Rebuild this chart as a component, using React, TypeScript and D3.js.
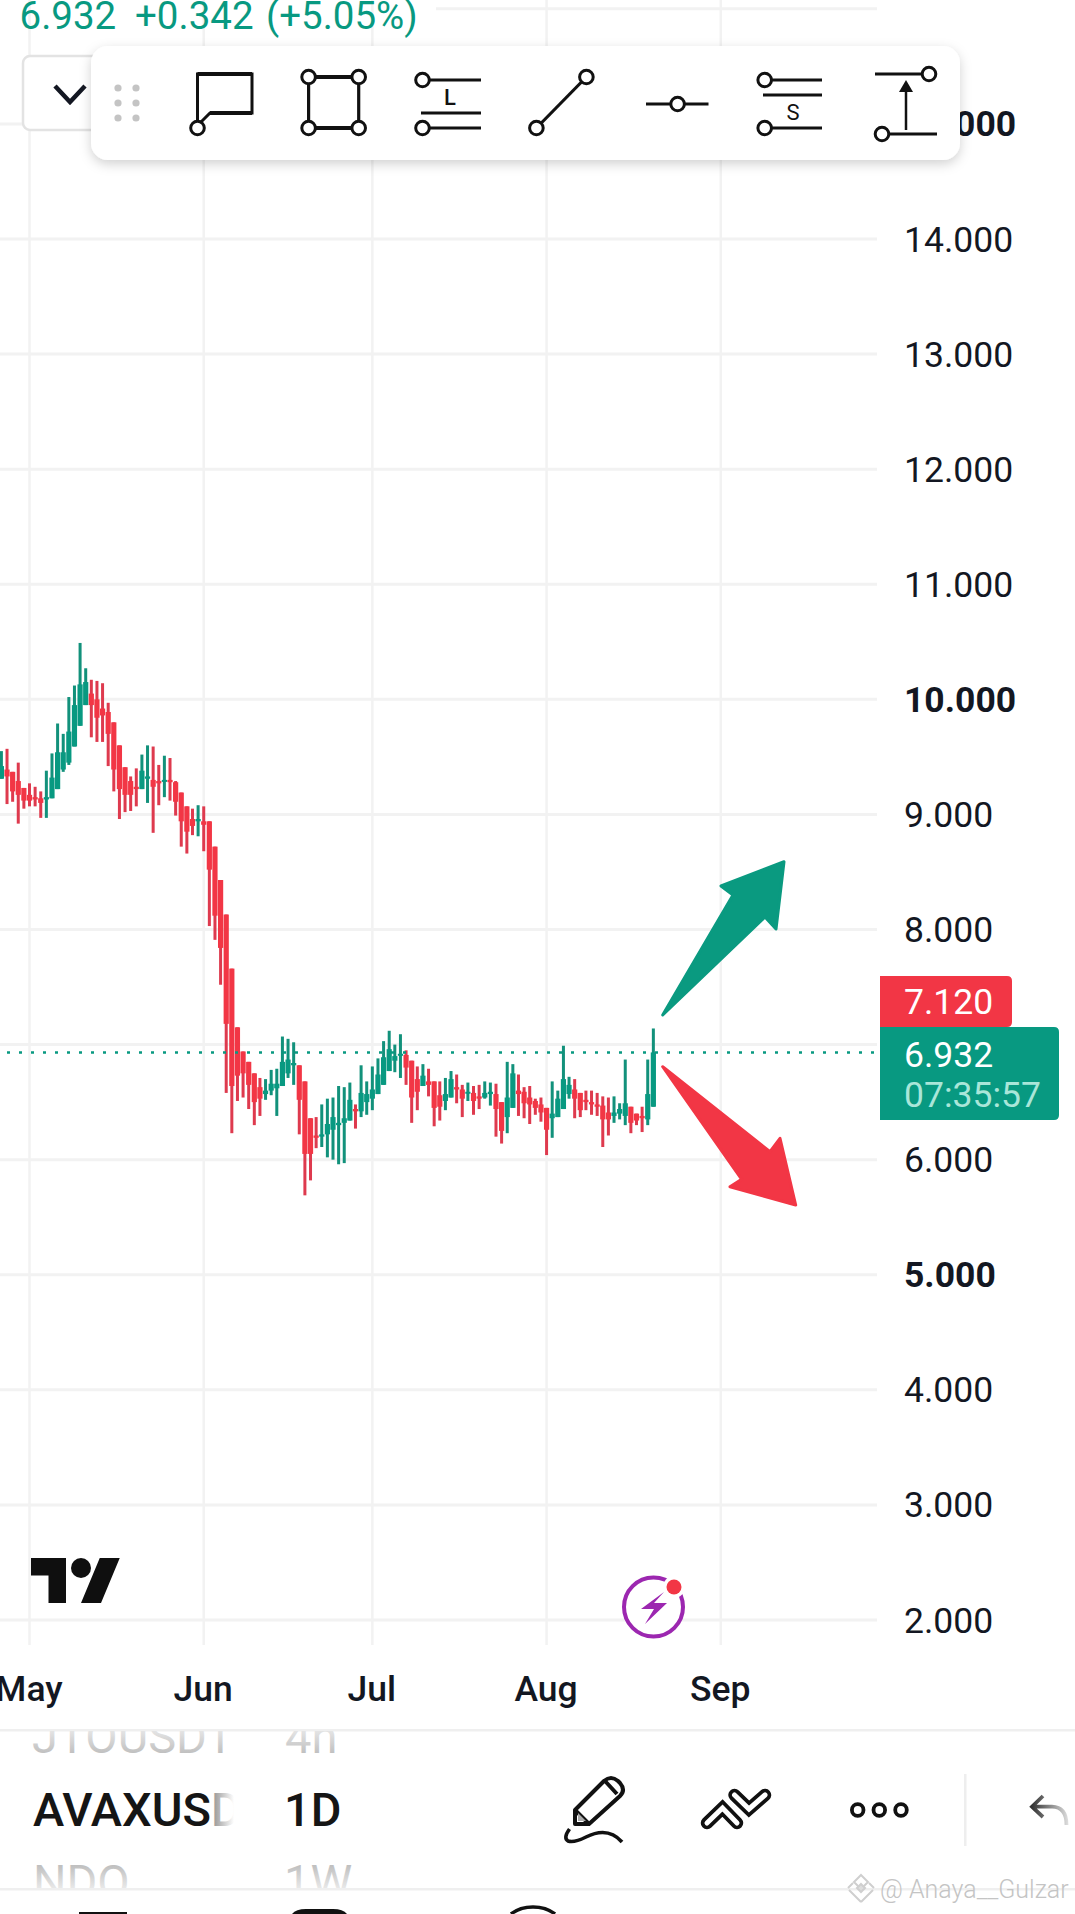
import React from "react";
import * as d3 from "d3";

const FONT = "Roboto, 'Noto Sans', sans-serif";
const UP = "#089981";
const DOWN = "#F23645";

const firstCandle = "2025-04-26";
const opens = [
  9.31, 9.39, 9.37, 9.29, 9.23, 9.17, 9.15, 9.14, 9.13, 9.14, 9.22, 9.39, 9.45, 9.59, 9.77, 9.95,
  10.05, 10.0, 9.92, 9.89, 9.8, 9.6, 9.41, 9.29, 9.24, 9.22, 9.31, 9.3, 9.29, 9.29, 9.3, 9.28,
  9.19, 9.07, 8.96, 8.94, 8.94, 8.94, 8.72, 8.43, 8.13, 7.66, 7.15, 6.94, 6.85, 6.75, 6.63, 6.57,
  6.6, 6.62, 6.64, 6.75, 6.82, 6.82, 6.68, 6.36, 6.21, 6.2, 6.22, 6.26, 6.3,
  6.32, 6.34, 6.44, 6.42, 6.5, 6.53, 6.57, 6.65, 6.77, 6.86, 6.91, 6.91, 6.86, 6.7, 6.64, 6.68,
  6.68, 6.56, 6.51, 6.54, 6.63, 6.61, 6.58, 6.58, 6.55, 6.54, 6.57, 6.57, 6.5, 6.37, 6.45, 6.6,
  6.59, 6.54, 6.51, 6.48, 6.45, 6.36, 6.37, 6.44, 6.57, 6.61, 6.58, 6.52, 6.5, 6.48, 6.47, 6.41,
  6.38, 6.4, 6.38, 6.46, 6.4, 6.38, 6.35, 6.46,
];
const highs = [
  9.55, 9.57, 9.37, 9.45, 9.23, 9.27, 9.24, 9.2, 9.38, 9.53, 9.79, 9.7, 10.02, 10.12, 10.49, 10.27,
  10.17, 10.16, 10.14, 9.97, 9.8, 9.6, 9.41, 9.33, 9.4, 9.52, 9.6, 9.59, 9.43, 9.51, 9.49, 9.29,
  9.19, 9.07, 9.05, 9.08, 9.07, 8.94, 8.72, 8.43, 8.13, 7.66, 7.15, 6.94, 6.85, 6.75, 6.71, 6.7,
  6.78, 6.79, 7.07, 7.05, 7.02, 6.82, 6.68, 6.36, 6.37, 6.48, 6.53, 6.54, 6.64,
  6.63, 6.67, 6.48, 6.82, 6.68, 6.81, 6.88, 7.03, 7.12, 7.0, 7.09, 6.95, 6.86, 6.81, 6.83, 6.79,
  6.68, 6.68, 6.71, 6.77, 6.74, 6.65, 6.67, 6.64, 6.65, 6.68, 6.67, 6.66, 6.5, 6.85, 6.83, 6.74,
  6.63, 6.64, 6.53, 6.54, 6.45, 6.68, 6.6, 6.99, 6.72, 6.7, 6.58, 6.6, 6.6, 6.58, 6.55, 6.54,
  6.55, 6.49, 6.87, 6.46, 6.4, 6.46, 6.87, 7.14,
];
const lows = [
  9.31, 9.09, 9.11, 8.92, 9.05, 9.07, 9.07, 8.97, 8.97, 9.14, 9.22, 9.37, 9.43, 9.59, 9.77, 9.95,
  9.67, 9.63, 9.63, 9.42, 9.2, 8.96, 9.02, 9.03, 9.07, 9.22, 9.1, 8.84, 9.08, 9.15, 9.12, 8.99,
  8.72, 8.66, 8.82, 8.81, 8.68, 8.03, 7.91, 7.52, 6.58, 6.23, 6.51, 6.54, 6.44, 6.3, 6.38, 6.52,
  6.56, 6.38, 6.64, 6.71, 6.65, 6.22, 5.69, 5.82, 6.1, 6.11, 6.02, 6.0, 5.96,
  5.97, 6.34, 6.27, 6.37, 6.39, 6.43, 6.57, 6.65, 6.77, 6.76, 6.71, 6.65, 6.32, 6.43, 6.64, 6.55,
  6.29, 6.34, 6.43, 6.54, 6.49, 6.37, 6.51, 6.39, 6.44, 6.53, 6.47, 6.2, 6.14, 6.23, 6.45, 6.38,
  6.36, 6.31, 6.39, 6.33, 6.04, 6.19, 6.37, 6.44, 6.53, 6.36, 6.37, 6.43, 6.39, 6.38, 6.11, 6.21,
  6.32, 6.35, 6.3, 6.23, 6.3, 6.24, 6.3, 6.46,
];
const closes = [
  9.42, 9.33, 9.2, 9.17, 9.12, 9.12, 9.13, 9.1, 9.15, 9.32, 9.54, 9.54, 9.72, 9.95, 10.13, 10.15,
  9.95, 9.84, 9.86, 9.7, 9.39, 9.22, 9.17, 9.17, 9.22, 9.38, 9.33, 9.24, 9.27, 9.3, 9.28, 9.11,
  8.94, 8.85, 8.9, 8.96, 8.91, 8.52, 8.12, 7.84, 7.18, 6.64, 6.73, 6.75, 6.65, 6.5, 6.53, 6.6,
  6.66, 6.66, 6.85, 6.87, 6.84, 6.52, 6.05, 6.05, 6.19, 6.22, 6.31, 6.37, 6.32,
  6.36, 6.52, 6.42, 6.58, 6.57, 6.61, 6.74, 6.89, 6.96, 6.9, 6.92, 6.8, 6.54, 6.59, 6.73, 6.65,
  6.45, 6.46, 6.57, 6.7, 6.61, 6.53, 6.59, 6.51, 6.53, 6.58, 6.59, 6.44, 6.25, 6.54, 6.75, 6.57,
  6.49, 6.48, 6.45, 6.41, 6.26, 6.4, 6.53, 6.7, 6.65, 6.53, 6.43, 6.5, 6.48, 6.46, 6.35, 6.35,
  6.41, 6.44, 6.49, 6.32, 6.34, 6.36, 6.57, 6.932,
];

const priceTicks = [16, 15, 14, 13, 12, 11, 10, 9, 8, 7, 6, 5, 4, 3, 2];
const boldTicks = [15, 10, 5];
const hiddenLabels = [16, 7];
const monthTicks = ["2025-05-01", "2025-06-01", "2025-07-01", "2025-08-01", "2025-09-01"];
const monthNames = ["May", "Jun", "Jul", "Aug", "Sep"];
const lastPrice = 6.932;
const openLabel = "7.120";
const countdown = "07:35:57";

const x = d3.scaleUtc().domain([new Date("2025-05-01"), new Date("2025-09-01")]).range([29.5, 720.8]);
const y = d3.scaleLinear().domain([2, 14]).range([1620, 239]);

const Circle = ({ cx, cy }: { cx: number; cy: number }) => (
  <circle cx={cx} cy={cy} r={6.8} fill="#fff" stroke="#111" strokeWidth={3} />
);
const L = ({ a, b, c, d, w = 3.2 }: { a: number; b: number; c: number; d: number; w?: number }) => (
  <line x1={a} y1={b} x2={c} y2={d} stroke="#111" strokeWidth={w} />
);

function Toolbar() {
  return (
    <g>
      <rect x={91} y={46} width={869} height={114} rx={17} fill="#fff" filter="url(#shadow)" />
      {[118, 136].map((cx) =>
        [88, 103, 118].map((cy) => <circle key={cx + "-" + cy} cx={cx} cy={cy} r={3.6} fill="#c4c4c4" />)
      )}
      <path d="M197.5,121 V74 H252 V113 H210 L201,122" fill="none" stroke="#111" strokeWidth={3} />
      <path d="M197.5,74 H252 M210,113 H252" stroke="#111" strokeWidth={4} />
      <Circle cx={197.5} cy={128} />

      <L a={308.6} b={77} c={358.7} d={77} w={4} />
      <L a={308.6} b={128} c={358.7} d={128} w={4} />
      <L a={308.6} b={77} c={308.6} d={128} />
      <L a={358.7} b={77} c={358.7} d={128} />
      <Circle cx={308.6} cy={77} />
      <Circle cx={358.7} cy={77} />
      <Circle cx={308.6} cy={128} />
      <Circle cx={358.7} cy={128} />

      <L a={422} b={80} c={481} d={80} />
      <L a={421} b={113} c={481} d={113} />
      <L a={422} b={128} c={481} d={128} />
      <Circle cx={422.5} cy={80} />
      <Circle cx={422.5} cy={128} />
      <text x={450} y={105} textAnchor="middle" fontFamily={FONT} fontWeight={500} fontSize={22} fill="#111">L</text>

      <L a={586.4} b={77} c={536.4} d={128} />
      <Circle cx={586.4} cy={77} />
      <Circle cx={536.4} cy={128} />

      <L a={646} b={104} c={708.5} d={104} />
      <Circle cx={677.6} cy={104} />

      <L a={765} b={80} c={822} d={80} />
      <L a={763} b={95} c={822} d={95} />
      <L a={765} b={128} c={822} d={128} />
      <Circle cx={764.7} cy={80} />
      <Circle cx={764.7} cy={128} />
      <text x={793} y={120} textAnchor="middle" fontFamily={FONT} fontWeight={400} fontSize={22} fill="#111">S</text>

      <L a={875} b={74} c={925} d={74} />
      <L a={885} b={134} c={937} d={134} />
      <Circle cx={929} cy={74} />
      <Circle cx={882} cy={134} />
      <L a={906} b={130} c={906} d={88} w={2.5} />
      <path d="M906,80 L913,92 H899 Z" fill="#111" />
    </g>
  );
}

function BottomBar() {
  const txt = { fontFamily: FONT, fontSize: 47 } as const;
  return (
    <g>
      <rect x={0} y={1729} width={1075} height={2.5} fill="#efefef" />
      <rect x={0} y={1888} width={1075} height={2.5} fill="#efefef" />
      <g clipPath="url(#pickTop)">
        <text x={32} y={1753} {...txt} fill="url(#fadeTop)" clipPath="url(#symClip)">JTOUSDT</text>
        <text x={285} y={1753} {...txt} fill="url(#fadeTop)">4h</text>
      </g>
      <text x={33} y={1826} {...txt} fontWeight={500} fill="url(#fadeRight)">AVAXUSD</text>
      <text x={284} y={1826} {...txt} fontWeight={500} fill="#151515">1D</text>
      <g clipPath="url(#pickBottom)">
        <text x={33} y={1898} {...txt} fill="url(#fadeBottom)">NDO</text>
        <text x={284} y={1898} {...txt} fill="url(#fadeBottom)">1W</text>
      </g>

      {/* pencil */}
      <path d="M575,1824 V1810 L604,1781 Q611,1775 618,1781 L620,1783 Q626,1790 620,1796 L589,1824 Z" fill="#fff" stroke="#111" strokeWidth={4} strokeLinejoin="round" />
      <path d="M575,1810 L589,1824 M605,1781 L617,1794" stroke="#111" strokeWidth={4} fill="none" />
      <path d="M578,1813 V1821 H586 Z" fill="#aaa" />
      <path d="M569.5,1829 Q563,1838 568,1841 Q574,1843 586,1837 Q608,1826 622,1842" fill="none" stroke="#111" strokeWidth={3.6} />

      {/* chevrons */}
      <path d="M707,1823 L722.5,1808 L737,1823" fill="none" stroke="#111" strokeWidth={12.5} strokeLinecap="round" strokeLinejoin="miter" />
      <path d="M707,1823 L722.5,1808 L737,1823" fill="none" stroke="#fff" strokeWidth={5} strokeLinecap="round" strokeLinejoin="miter" />
      <path d="M734.5,1795 L749,1809 L765,1795" fill="none" stroke="#111" strokeWidth={12.5} strokeLinecap="round" strokeLinejoin="miter" />
      <path d="M734.5,1795 L749,1809 L765,1795" fill="none" stroke="#fff" strokeWidth={5} strokeLinecap="round" strokeLinejoin="miter" />

      {/* more */}
      {[857.7, 879.3, 901].map((cx) => (
        <circle key={cx} cx={cx} cy={1810} r={5.8} fill="none" stroke="#111" strokeWidth={3.8} />
      ))}
      <rect x={964} y={1774} width={2.5} height={72} fill="#eee" />

      {/* undo */}
      <path d="M1043,1796 L1032,1806.7 L1043,1817 M1032,1806.7 H1052 Q1066.5,1807 1066.5,1825" fill="none" stroke="url(#fadeUndo)" strokeWidth={3.8} />

      {/* next row */}
      <rect x={79} y={1912} width={48} height={2} fill="#111" />
      <path d="M292,1914 Q296,1909 306,1909 H333 Q343,1909 347,1914 Z" fill="#111" />
      <path d="M511,1914 Q520,1907 533,1907 Q546,1907 555,1914" fill="none" stroke="#111" strokeWidth={3.5} />

      {/* watermark */}
      <g fill="none" stroke="#cfcfcf" strokeWidth={2}>
        <path d="M861,1875 L868,1882 L861,1889 L854,1882 Z M848,1888 L853,1883 M874,1888 L869,1883 M861,1902 L849,1890 M861,1902 L873,1890" />
        <path d="M861,1884 L865,1888 L861,1892 L857,1888 Z" fill="#ddd" />
      </g>
      <text x={880} y={1898} fontFamily={FONT} fontWeight={300} fontSize={25} fill="#c4c4c4">@ Anaya__Gulzar</text>
    </g>
  );
}

export default function App() {
  const candles = opens.map((o, i) => ({
    date: d3.utcDay.offset(new Date(firstCandle), i),
    o,
    h: highs[i],
    l: lows[i],
    c: closes[i],
  }));
  const yLast = y(lastPrice);
  return (
    <svg width={1075} height={1914} viewBox="0 0 1075 1914" style={{ position: "absolute", left: 0, top: 0, display: "block", background: "#fff" }}>
      <defs>
        <filter id="shadow" x="-10%" y="-30%" width="120%" height="170%">
          <feDropShadow dx="0" dy="4" stdDeviation="6" floodColor="#000" floodOpacity="0.18" />
        </filter>
        <clipPath id="pickTop"><rect x={0} y={1731} width={250} height={30} /><rect x={280} y={1731} width={80} height={30} /></clipPath>
        <clipPath id="pickBottom"><rect x={0} y={1860} width={360} height={28} /></clipPath>
        <clipPath id="symClip"><rect x={0} y={1700} width={232} height={100} /></clipPath>
        <linearGradient id="fadeTop" gradientUnits="userSpaceOnUse" x1={0} y1={1731} x2={0} y2={1755}>
          <stop offset="0" stopColor="#e4e4e4" /><stop offset="1" stopColor="#bdbdbd" />
        </linearGradient>
        <linearGradient id="fadeBottom" gradientUnits="userSpaceOnUse" x1={0} y1={1864} x2={0} y2={1888}>
          <stop offset="0" stopColor="#bdbdbd" /><stop offset="1" stopColor="#e8e8e8" />
        </linearGradient>
        <linearGradient id="fadeRight" gradientUnits="userSpaceOnUse" x1={211} y1={0} x2={234} y2={0}>
          <stop offset="0" stopColor="#151515" /><stop offset="0.12" stopColor="#999" /><stop offset="1" stopColor="#fff" />
        </linearGradient>
        <linearGradient id="fadeUndo" gradientUnits="userSpaceOnUse" x1={1032} y1={0} x2={1068} y2={0}>
          <stop offset="0" stopColor="#333" /><stop offset="1" stopColor="#ddd" />
        </linearGradient>
      </defs>

      {/* grid */}
      <g>
        {monthTicks.map((m) => (
          <line key={m} x1={x(new Date(m))} x2={x(new Date(m))} y1={0} y2={1645} stroke="#f2f2f2" strokeWidth={2.5} />
        ))}
        {priceTicks.map((t) => (
          <line key={t} x1={t === 16 ? 436 : 0} x2={877} y1={y(t)} y2={y(t)} stroke="#f2f2f2" strokeWidth={3} />
        ))}
      </g>

      {/* axis labels */}
      {priceTicks.filter((t) => !hiddenLabels.includes(t)).map((t) => (
        <text key={t} x={904} y={y(t) + 12.5} fontFamily={FONT} fontSize={35.5} fontWeight={boldTicks.includes(t) ? 700 : 400} fill="#131722">
          {t.toFixed(3)}
        </text>
      ))}
      {monthTicks.map((m, i) => (
        <text key={m} x={x(new Date(m)) - 0.5} y={1700.5} textAnchor="middle" fontFamily={FONT} fontSize={35.5} fontWeight={500} fill="#131722">
          {monthNames[i]}
        </text>
      ))}

      {/* header */}
      <text y={29} fontFamily={FONT} fontSize={38.5} fill={UP}>
        <tspan x={19.5}>6.932</tspan>
        <tspan x={135}>+0.342</tspan>
        <tspan x={266}>(+5.05%)</tspan>
      </text>
      <rect x={23} y={56} width={90} height={74} rx={7} fill="#fff" stroke="#e3e3e3" strokeWidth={2.5} />
      <path d="M55,86 L70,102 L85,86" fill="none" stroke="#131722" strokeWidth={4.5} />

      {/* candles */}
      <g>
        {candles.map((d, i) => {
          const color = d.c >= d.o ? UP : DOWN;
          const wick = d.c >= d.o ? "#12917B" : "#DE3A4E";
          const cx = x(d.date);
          const top = y(Math.max(d.o, d.c));
          const bot = y(Math.min(d.o, d.c));
          return (
            <g key={i}>
              <rect x={cx - 1.5} width={3} y={y(d.h)} height={y(d.l) - y(d.h)} fill={wick} />
              <rect x={cx - 2.6} width={5.2} y={top} height={Math.max(bot - top, 2)} fill={color} />
            </g>
          );
        })}
      </g>

      {/* last price */}
      <line x1={7} x2={880} y1={yLast} y2={yLast} stroke={UP} strokeWidth={2.5} strokeDasharray="3 9" />
      <path d="M880,976 H1007 Q1012,976 1012,981 V1022 Q1012,1027 1007,1027 H880 Z" fill={DOWN} />
      <text x={904} y={1014} fontFamily={FONT} fontSize={35.5} fill="#fff">{openLabel}</text>
      <path d="M880,1027 H1054 Q1059,1027 1059,1032 V1115 Q1059,1120 1054,1120 H880 Z" fill={UP} />
      <text x={904} y={1067} fontFamily={FONT} fontSize={35.5} fill="#fff">{lastPrice.toFixed(3)}</text>
      <text x={904} y={1107} fontFamily={FONT} fontSize={35.5} fill="#a9e6d9">{countdown}</text>

      {/* arrows */}
      <path d="M662.7,1015 L733,895 L721,886 L784,861.7 L776,929 L765,917 Z" fill="#0A9A80" stroke="#0A9A80" strokeWidth={3} strokeLinejoin="round" />
      <path d="M662.7,1066.7 L770,1151.7 L780,1138.3 L795.7,1205 L730,1186.7 L741.7,1179.3 Z" fill={DOWN} stroke={DOWN} strokeWidth={3} strokeLinejoin="round" />

      {/* logo */}
      <g transform="translate(31,1548) scale(2.5)" fill="#0f0f0f">
        <path d="M14 22H7V11H0V4h14v18zM28 22h-8l7.5-18h8L28 22z" />
        <circle cx={20} cy={8} r={4} />
      </g>

      {/* bolt */}
      <circle cx={653.5} cy={1607} r={29.5} fill="#fff" stroke="#9C27B0" strokeWidth={4} />
      <path d="M664,1592 L641,1609 H654 L645,1624 L667,1603 H654 Z" fill="#9C27B0" />
      <circle cx={674} cy={1587} r={11} fill="#fff" />
      <circle cx={674} cy={1587} r={7.5} fill={DOWN} />

      <Toolbar />
      <BottomBar />
    </svg>
  );
}
